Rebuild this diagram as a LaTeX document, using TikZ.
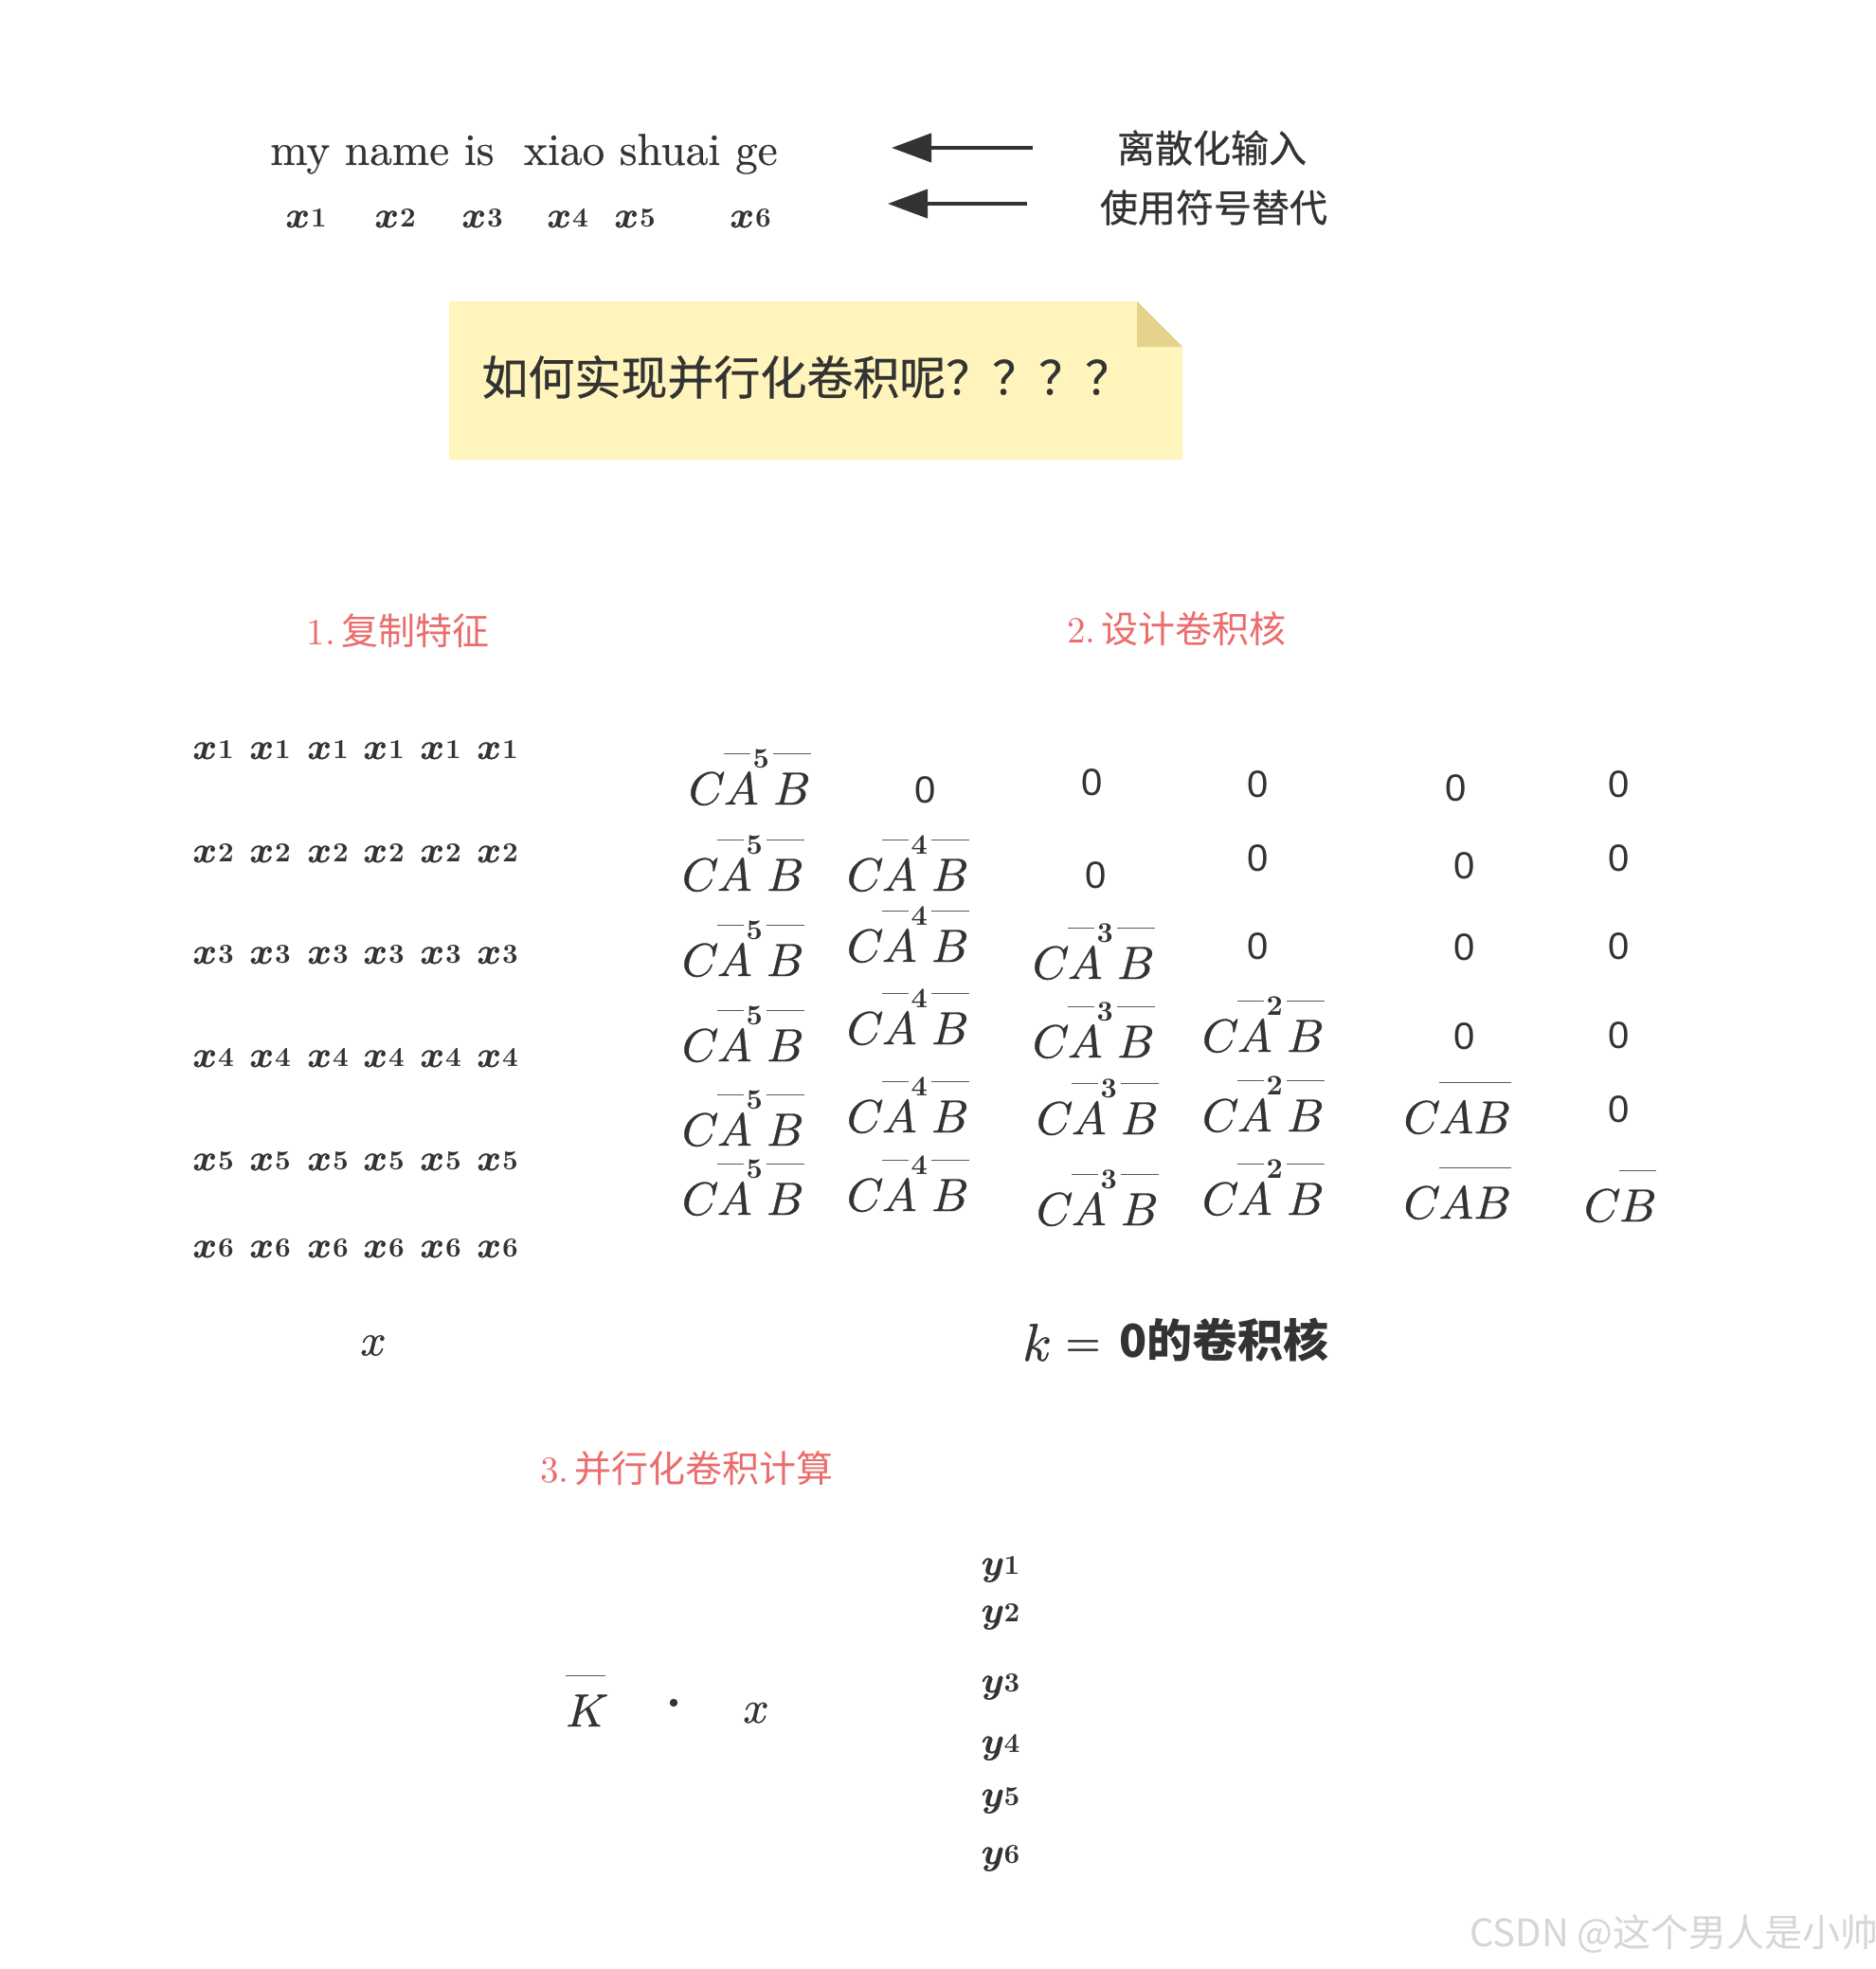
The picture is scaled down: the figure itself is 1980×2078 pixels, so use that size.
\documentclass[tikz,border=0pt]{standalone}
\usepackage{fontspec}
\usetikzlibrary{arrows.meta}
\setmainfont{lmroman10-regular.otf}[BoldFont=lmroman10-bold.otf, ItalicFont=lmroman10-italic.otf]
\newfontfamily\lmt{lmroman10-regular.otf}[FakeBold=0.4]
\newfontfamily\lmb{lmroman10-bold.otf}
\newfontfamily\lmm{latinmodern-math.otf}[FakeBold=0.7]
\newfontfamily\cjk{Noto Sans CJK SC}
\newfontfamily\cjkm{Noto Sans CJK SC}[FakeBold=0.6]
\newfontfamily\sansz{Liberation Sans}
\definecolor{ink}{HTML}{333333}
\definecolor{pinkt}{HTML}{EA6C6C}
\definecolor{noteY}{HTML}{FFF5BC}
\definecolor{noteF}{HTML}{E5D28C}
\definecolor{olc}{HTML}{5A5A5A}
\definecolor{wm}{HTML}{D6D6D6}
\newcommand\ovh{26.5pt}
\newcommand\ovt{0.75pt}
\newcommand\supd[1]{{\lmb\fontsize{15}{15}\selectfont #1}}
% C A^n B with broken overline over A..B
\newcommand\cabn[1]{%
\setbox0\hbox{𝐴}\setbox2\hbox{𝐵}%
𝐶\kern1pt%
\rlap{\raisebox{\ovh}{\color{olc}\rule{\dimexpr\wd0-4.5pt\relax}{\ovt}}}%
\box0%
\kern-3pt\raisebox{19.5pt}{\supd{#1}}\kern2pt%
\rlap{\raisebox{\ovh}{\color{olc}\rule{\dimexpr\wd2+1.5pt\relax}{\ovt}}}%
\box2}
% C \overline{AB}
\newcommand\cabb{%
\setbox0\hbox{𝐴𝐵}%
𝐶\kern1pt%
\rlap{\raisebox{\ovh}{\color{olc}\rule{\dimexpr\wd0+1pt\relax}{\ovt}}}%
\box0}
% C \overline{B}
\newcommand\cbb{%
\setbox0\hbox{𝐵}%
𝐶\kern1pt%
\rlap{\raisebox{\ovh}{\color{olc}\rule{\dimexpr\wd0+1pt\relax}{\ovt}}}%
\box0}
% \overline{K}
\newcommand\kbar{%
\setbox0\hbox{𝐾}%
\rlap{\raisebox{\ovh}{\color{olc}\rule{\wd0}{\ovt}}}%
\box0}
% bold variable with small bold index
\newcommand\xv[2]{{\lmm #1}\kern0.5pt\raisebox{0.3pt}{\lmb\fontsize{14.5}{14.5}\selectfont #2}}
\tikzset{
 base/.style={inner sep=0pt, text=ink},
 xs/.style={base, font=\fontsize{19.5}{24}\selectfont, anchor=base},
 cabs/.style={base, font=\lmm\fontsize{24.5}{30}\selectfont, anchor=base},
 zs/.style={base, font=\sansz\fontsize{20}{24}\selectfont, anchor=center},
 lab/.style={base, font=\cjkm\fontsize{20}{24}\selectfont},
 sec/.style={inner sep=0pt, text=pinkt, font=\fontsize{19.5}{24}\selectfont},
 arr/.style={draw=ink, line width=2pt, -{Triangle[length=21pt,width=15pt]}},
}
\begin{document}
\begin{tikzpicture}[x=0.5pt,y=-0.5pt]
\fill[white] (0,0) rectangle (1980,2078);
\useasboundingbox (0,0) rectangle (1980,2078);

% ---- top: sentence and symbols
\node[base, font=\lmt\fontsize{23.6}{28}\selectfont, anchor=base] (sent) at (553,174) {my name is\ \ xiao shuai ge};
\node[xs] (t1) at (323,240) {\xv{𝒙}{1}};
\node[xs] (t2) at (417,240) {\xv{𝒙}{2}};
\node[xs] (t3) at (509,240) {\xv{𝒙}{3}};
\node[xs] (t4) at (599,240) {\xv{𝒙}{4}};
\node[xs] (t5) at (670,240) {\xv{𝒙}{5}};
\node[xs] (t6) at (792,240) {\xv{𝒙}{6}};

\node[lab] (l1) at (1279,156) {离散化输入};
\node[lab] (l2) at (1281,219) {使用符号替代};
\coordinate (a1s) at (1090,156); \coordinate (a1e) at (941,156);
\coordinate (a2s) at (1084,215); \coordinate (a2e) at (937,215);
\draw[arr] (a1s) -- (a1e);
\draw[arr] (a2s) -- (a2e);

% ---- sticky note
\fill[noteY] (474,318) -- (1200,318) -- (1248,366) -- (1248,485) -- (474,485) -- cycle;
\fill[noteF] (1200,318) -- (1200,366) -- (1248,366) -- cycle;
\node[base, font=\cjkm\fontsize{24.5}{28}\selectfont, anchor=west] (q) at (508,398) {如何实现并行化卷积呢？？？？};

% ---- section titles
\node[sec] (s1) at (420,666) {1.\kern3pt{\cjk 复制特征}};
\node[sec] (s2) at (1242,664) {2.\kern3pt{\cjk 设计卷积核}};
\node[sec] (s3) at (725,1550) {3.\kern3pt{\cjk 并行化卷积计算}};

% ---- replicated features
\foreach \r/\yy in {1/801,2/910,3/1017,4/1126,5/1235,6/1327}{
 \foreach \c/\xx in {1/225,2/285,3/346,4/405,5/465,6/525}{
  \node[xs] (g\r\c) at (\xx,\yy) {\xv{𝒙}{\r}};
 }
}
\node[base, font=\lmm\fontsize{24}{28}\selectfont] (xlab) at (394,1420) {𝑥};

% ---- kernel matrix
% column 1
\node[cabs] (k11) at (790,849) {\cabn{5}};
\node[cabs] (k21) at (783,940) {\cabn{5}};
\node[cabs] (k31) at (783,1030) {\cabn{5}};
\node[cabs] (k41) at (783,1120) {\cabn{5}};
\node[cabs] (k51) at (783,1209) {\cabn{5}};
\node[cabs] (k61) at (783,1282) {\cabn{5}};
% column 2
\node[zs] (k12) at (977,834) {0};
\node[cabs] (k22) at (957,940) {\cabn{4}};
\node[cabs] (k32) at (957,1015) {\cabn{4}};
\node[cabs] (k42) at (957,1102) {\cabn{4}};
\node[cabs] (k52) at (957,1195) {\cabn{4}};
\node[cabs] (k62) at (957,1278) {\cabn{4}};
% column 3
\node[zs] (k13) at (1153,826) {0};
\node[zs] (k23) at (1157,924) {0};
\node[cabs] (k33) at (1153,1033) {\cabn{3}};
\node[cabs] (k43) at (1153,1116) {\cabn{3}};
\node[cabs] (k53) at (1157,1197) {\cabn{3}};
\node[cabs] (k63) at (1157,1293) {\cabn{3}};
% column 4
\node[zs] (k14) at (1328,828) {0};
\node[zs] (k24) at (1328,906) {0};
\node[zs] (k34) at (1328,999) {0};
\node[cabs] (k44) at (1332,1110) {\cabn{2}};
\node[cabs] (k54) at (1332,1194) {\cabn{2}};
\node[cabs] (k64) at (1332,1282) {\cabn{2}};
% column 5
\node[zs] (k15) at (1537,832) {0};
\node[zs] (k25) at (1546,914) {0};
\node[zs] (k35) at (1546,1000) {0};
\node[zs] (k45) at (1546,1094) {0};
\node[cabs] (k55) at (1537,1196) {\cabb};
\node[cabs] (k65) at (1537,1286) {\cabb};
% column 6
\node[zs] (k16) at (1709,828) {0};
\node[zs] (k26) at (1709,906) {0};
\node[zs] (k36) at (1709,999) {0};
\node[zs] (k46) at (1709,1093) {0};
\node[zs] (k56) at (1709,1171) {0};
\node[cabs] (k66) at (1709,1289) {\cbb};

\node[base, font=\lmm\fontsize{24}{28}\selectfont, anchor=base] (klab) at (1241,1432)
 {\raisebox{-2pt}{\fontsize{28}{30}\selectfont 𝑘}\hspace{8pt}=\hspace{10pt}{\cjk\bfseries 0的卷积核}};

% ---- parallel computation
\node[cabs] (K) at (618,1822) {\kbar};
\node[circle, fill=ink, inner sep=0pt, minimum size=4.2pt] (dot) at (711,1797) {};
\node[base, font=\lmm\fontsize{24}{28}\selectfont, anchor=base] (xx) at (798,1818) {𝑥};
\node[xs] (y1) at (1056,1662) {\xv{𝒚}{1}};
\node[xs] (y2) at (1056,1712) {\xv{𝒚}{2}};
\node[xs] (y3) at (1056,1786) {\xv{𝒚}{3}};
\node[xs] (y4) at (1056,1850) {\xv{𝒚}{4}};
\node[xs] (y5) at (1056,1906) {\xv{𝒚}{5}};
\node[xs] (y6) at (1056,1967) {\xv{𝒚}{6}};

% ---- watermark
\node[inner sep=0pt, text=wm, font=\cjk\fontsize{20}{24}\selectfont] (wmk) at (1767,2041) {CSDN @这个男人是小帅};
\end{tikzpicture}
\end{document}
